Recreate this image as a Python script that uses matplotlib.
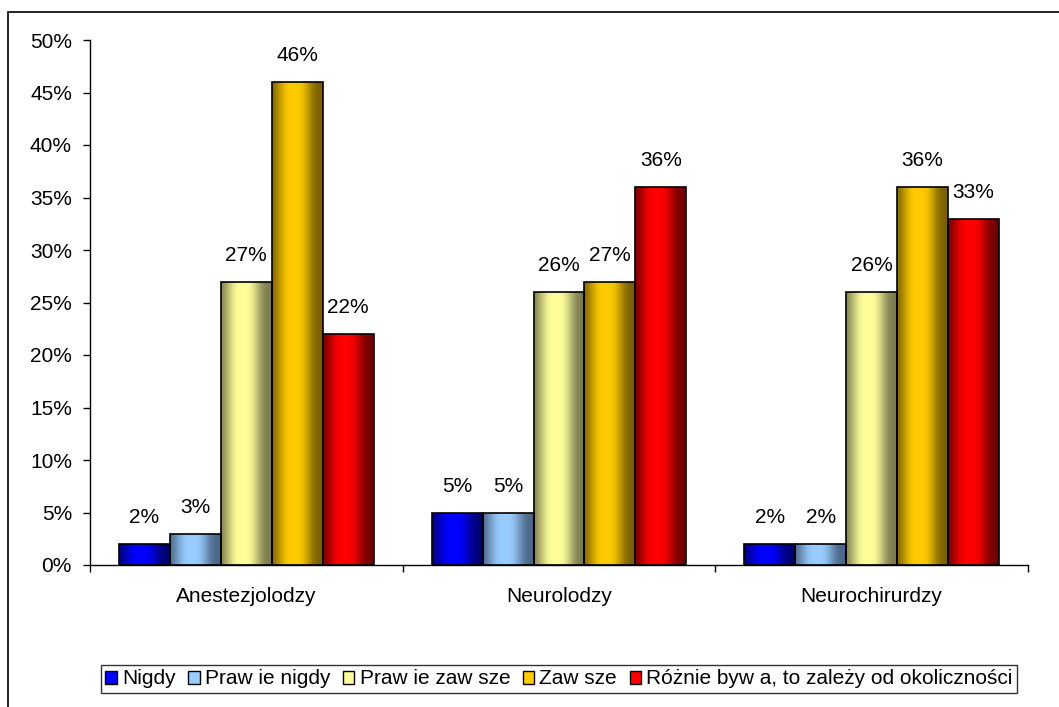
import numpy as np
import matplotlib
matplotlib.use("Agg")
import matplotlib.pyplot as plt
from matplotlib.patches import Rectangle, Patch
from matplotlib.colors import to_rgb
from matplotlib.ticker import FixedLocator, FuncFormatter

plt.rcParams['font.family'] = ['Liberation Sans', 'DejaVu Sans']

categories = ["Anestezjolodzy", "Neurolodzy", "Neurochirurdzy"]
series_names = ["Nigdy", "Praw ie nigdy", "Praw ie zaw sze", "Zaw sze",
                "Różnie byw a, to zależy od okoliczności"]
values = {
    "Nigdy": [2, 5, 2],
    "Praw ie nigdy": [3, 5, 2],
    "Praw ie zaw sze": [27, 26, 26],
    "Zaw sze": [46, 27, 36],
    "Różnie byw a, to zależy od okoliczności": [22, 36, 33],
}
bright = ["#0000FF", "#99CCFF", "#FFFF99", "#FFCC00", "#FF0000"]
dark = ["#000070", "#4A6585", "#7A7A50", "#7A5F00", "#700000"]
yticks = [0, 5, 10, 15, 20, 25, 30, 35, 40, 45, 50]

W, H = 1059, 707
fig = plt.figure(figsize=(W / 100, H / 100), dpi=100)
ax = fig.add_axes([90 / W, 1 - 565 / H, (1028 - 90) / W, (565 - 40) / H])

n = len(series_names)
bw = 0.163
x = np.arange(len(categories))

t = np.linspace(0, 1, 64)
w = np.exp(-np.abs((t - 0.43) / 0.33) ** 3)

FS = 15

for i, name in enumerate(series_names):
    offs = (i - (n - 1) / 2) * bw
    bars = ax.bar(x + offs, values[name], width=bw, facecolor='none',
                  edgecolor='black', linewidth=1.2, zorder=3)
    c0 = np.array(to_rgb(dark[i]))
    c1 = np.array(to_rgb(bright[i]))
    grad = (c0[None, :] + (c1 - c0)[None, :] * w[:, None])[None, :, :]
    for b in bars:
        x0 = b.get_x()
        x1 = x0 + b.get_width()
        h = b.get_height()
        im = ax.imshow(grad, extent=(x0, x1, 0, h), aspect='auto',
                       interpolation='bilinear', zorder=2)
        im.set_clip_path(b)
        ax.annotate(f"{h:g}%", (x0 + b.get_width() / 2, h),
                    xytext=(0, 19), textcoords='offset points',
                    ha='center', va='center', fontsize=FS, zorder=4)

ax.set_xlim(-0.5, len(categories) - 0.5)
ax.set_ylim(0, 50)
ax.set_yticks(yticks)
ax.yaxis.set_major_formatter(FuncFormatter(lambda v, p: f"{v:g}%"))
ax.tick_params(axis='y', direction='out', length=5, width=1, pad=8, labelsize=FS)

ax.xaxis.set_major_locator(FixedLocator(np.arange(len(categories) + 1) - 0.5))
ax.xaxis.set_minor_locator(FixedLocator(x))
ax.xaxis.set_major_formatter(FuncFormatter(lambda v, p: ""))
ax.set_xticklabels(categories, minor=True)
ax.tick_params(axis='x', which='major', direction='out', length=5, width=1)
ax.tick_params(axis='x', which='minor', length=0, pad=16, labelsize=FS)

for s in ['top', 'right']:
    ax.spines[s].set_visible(False)
for s in ['left', 'bottom']:
    ax.spines[s].set_linewidth(1)

handles = [Patch(facecolor=bright[i], edgecolor='black', linewidth=1)
           for i in range(n)]
leg = fig.legend(handles, series_names, loc='center',
                 bbox_to_anchor=((95 + 1023) / 2 / W, 1 - 679 / H),
                 ncol=5, fontsize=FS, frameon=True, fancybox=False,
                 edgecolor='black', handlelength=0.55, handleheight=0.6,
                 handletextpad=0.25, columnspacing=0.6, borderpad=0.2,
                 borderaxespad=0)
leg.get_frame().set_linewidth(1)

fig.add_artist(Rectangle((8 / W, -0.05), 1.2, 1 - 12 / H + 0.05,
                         transform=fig.transFigure, fill=False,
                         edgecolor='black', linewidth=1.2))

fig.savefig("out.png", dpi=100)
